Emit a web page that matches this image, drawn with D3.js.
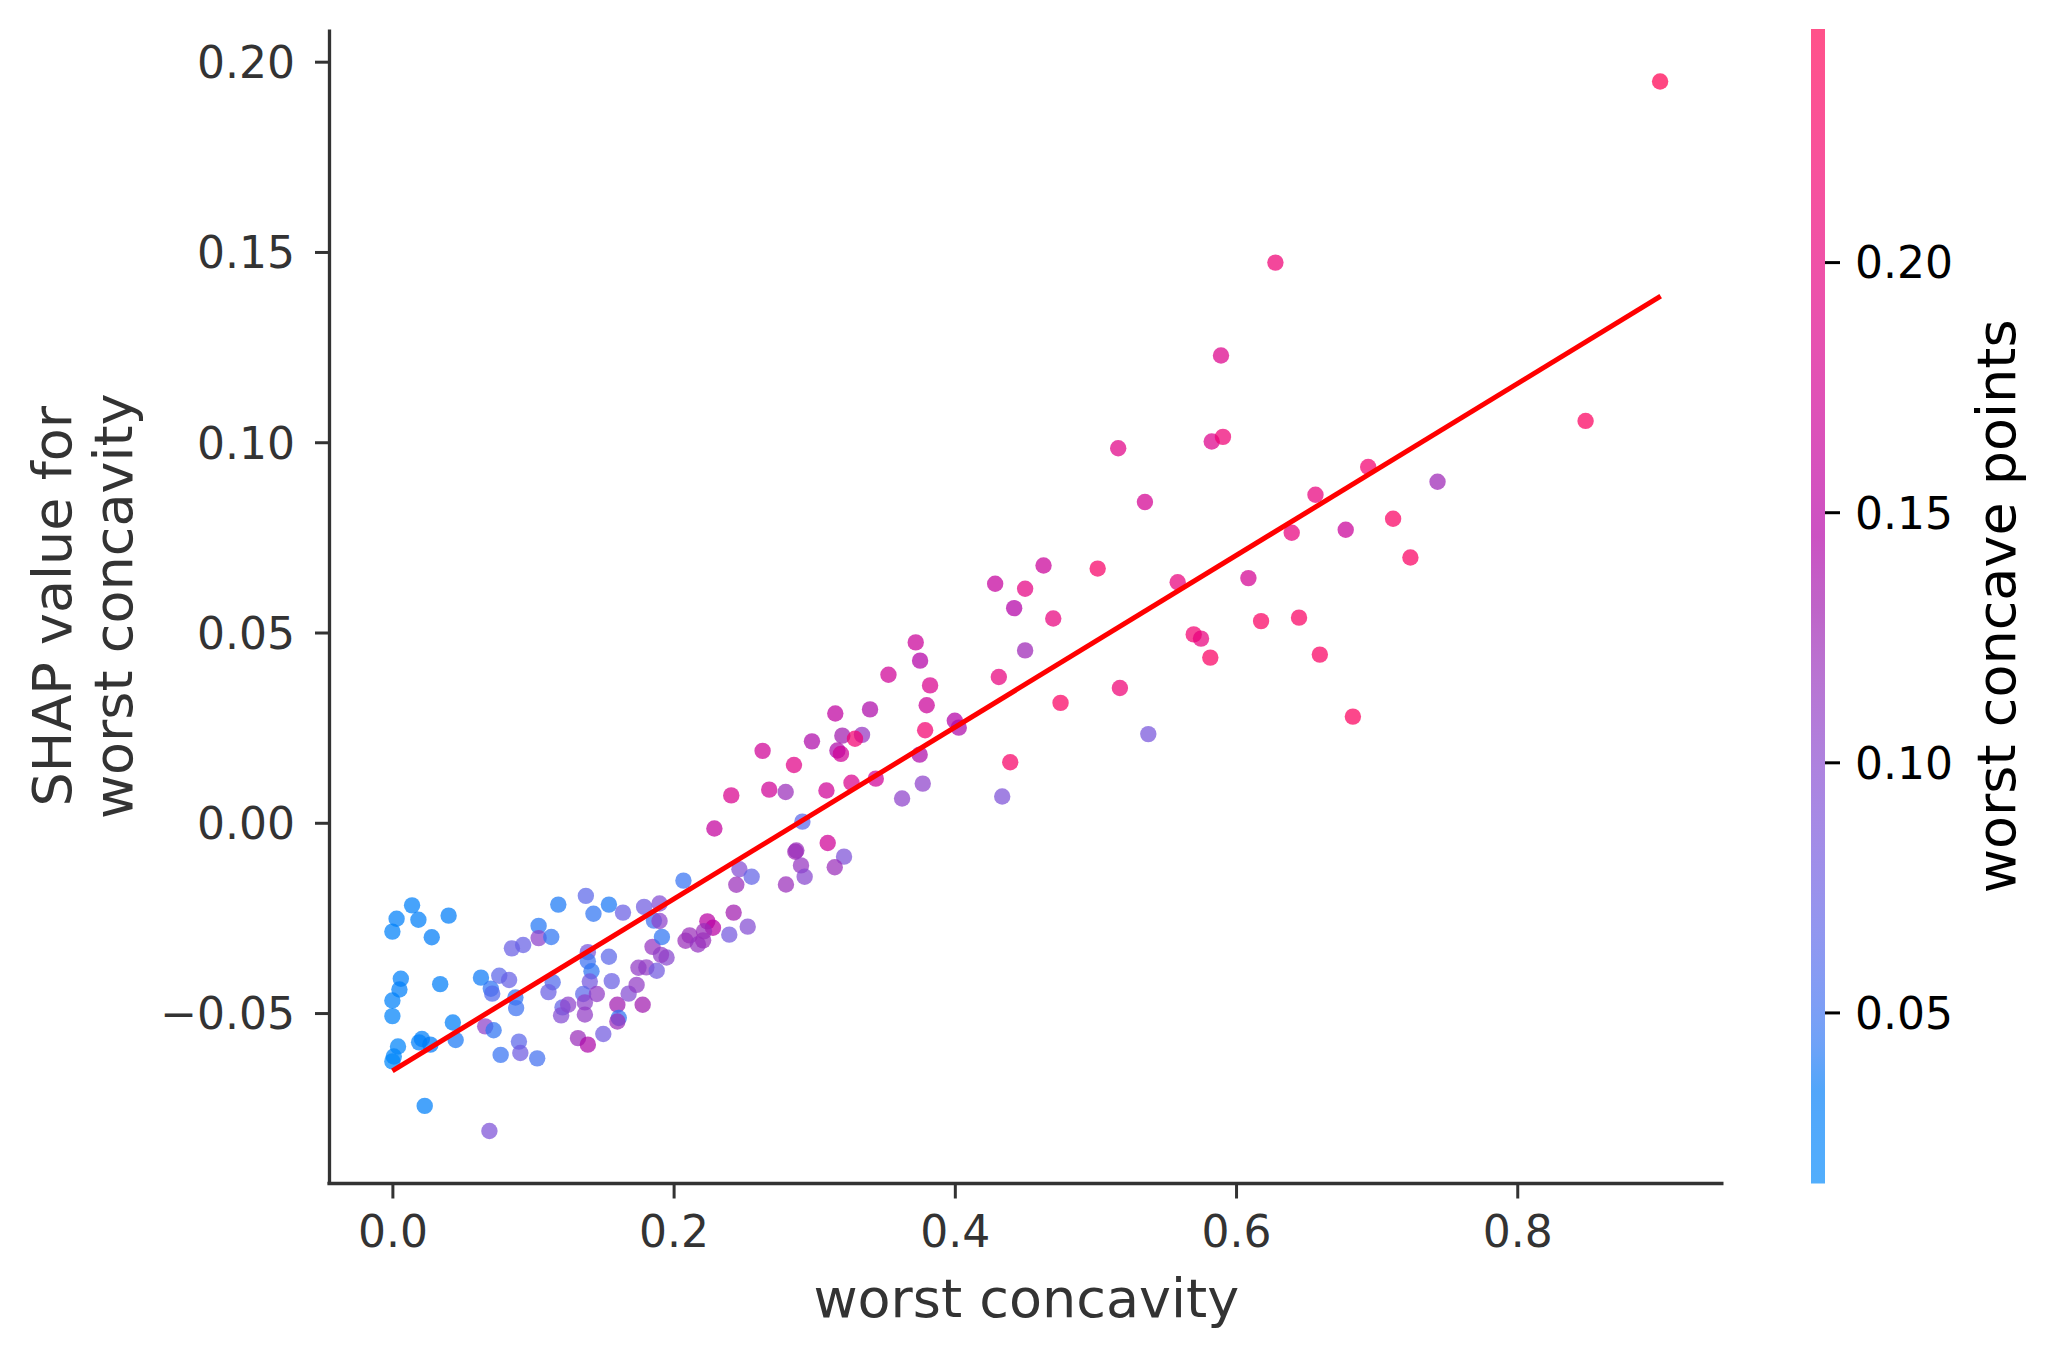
<!DOCTYPE html>
<html><head><meta charset="utf-8">
<script src="https://cdn.jsdelivr.net/npm/d3@7"></script>
<style>body{margin:0;background:#fff} svg text{font-family:"DejaVu Sans",sans-serif}</style>
</head><body><svg id="chart" width="2055" height="1357"></svg>
<script>
// ---- data ----
const worstConcavity = [
0.014,0.003,0.0185,0.000,0.028,0.040,0.006,0.005,0.000,0.000,0.034,0.004,0.001,0.000,0.021,0.019,0.027,0.023,0.043,0.045,
0.069,0.063,0.070,0.071,0.076,0.083,0.085,0.093,0.104,0.104,0.113,0.118,0.0875,0.088,0.066,0.072,0.077,0.090,0.091,0.103,
0.114,0.111,0.121,0.125,0.120,0.132,0.139,0.150,0.1376,0.143,0.154,0.164,0.139,0.139,0.1416,0.154,0.1404,0.1357,0.1454,0.1369,
0.1369,0.156,0.160,0.161,0.160,0.168,0.1737,0.178,0.175,0.1806,0.188,0.185,0.195,0.191,0.1917,0.186,0.190,0.179,0.190,0.207,
0.2085,0.2114,0.2173,0.221,0.224,0.228,0.2216,0.2427,0.2396,0.2527,0.2468,0.2446,0.2555,
0.315,0.3397,0.380,0.2984,0.320,0.334,0.329,0.3165,0.319,0.2633,0.2856,0.3789,0.3772,0.3625,0.375,0.3438,0.3265,0.3087,0.2797,0.268,
0.241,0.229,0.2916,0.3096,0.2866,0.2873,0.3212,0.2906,0.3146,0.2932,0.2799,
0.3722,0.3753,0.3528,0.3824,
0.5162,0.5827,0.5907,0.5352,0.6940,0.6565,0.7433,0.6396,0.678,0.7117,0.724,0.4287,0.450,0.4631,0.4422,0.470,0.5016,0.5585,0.6088,0.6178,
0.6448,0.450,0.4313,0.4752,0.5174,0.5699,0.5751,0.5817,0.6596,0.6831,0.5376,0.4000,0.4028,0.4394,0.4337,
0.9016,0.628,0.5893,0.8486
];
const shapValues = [
-0.0217,-0.0252,-0.0255,-0.0286,-0.0301,-0.0244,-0.0410,-0.0438,-0.0467,-0.0508,-0.0424,-0.0588,-0.0614,-0.0627,-0.0568,-0.0577,-0.0583,-0.0744,-0.0525,-0.0571,
-0.0810,-0.0407,-0.0436,-0.0449,-0.0402,-0.0413,-0.0330,-0.0321,-0.0271,-0.0303,-0.0300,-0.0215,-0.0459,-0.0487,-0.0535,-0.0545,-0.0610,-0.0575,-0.0605,-0.0619,
-0.0419,-0.0445,-0.0485,-0.0478,-0.0506,-0.0566,-0.0583,-0.0555,-0.0192,-0.0239,-0.0215,-0.0236,-0.0340,-0.0364,-0.0390,-0.0352,-0.0417,-0.0450,-0.0450,-0.0472,
-0.0504,-0.0416,-0.0478,-0.0513,-0.0522,-0.0449,-0.0426,-0.0478,-0.0381,-0.0380,-0.0389,-0.0326,-0.0354,-0.0347,-0.0300,-0.0257,-0.0258,-0.0221,-0.0212,-0.0152,
-0.0310,-0.0296,-0.0320,-0.0309,-0.0259,-0.0276,-0.0285,-0.0236,-0.0294,-0.0273,-0.0122,-0.0163,-0.0142,
0.0287,0.0298,0.0309,0.0214,0.0229,0.0231,0.0221,0.0190,0.0181,0.0189,0.0152,0.0243,0.0103,0.0064,0.0179,0.0116,0.0105,0.0085,0.0081,0.0087,
0.0072,-0.0015,0.0003,-0.0053,-0.0076,-0.0073,-0.0089,-0.0112,-0.0117,-0.0142,-0.0162,
0.0474,0.0426,0.0389,0.0361,
0.0984,0.1002,0.1014,0.0843,0.0935,0.0862,0.0896,0.0762,0.0770,0.0799,0.0697,0.0628,0.0615,0.0676,0.0564,0.0537,0.0668,0.0632,0.0643,0.0530,
0.0539,0.0453,0.0383,0.0315,0.0354,0.0495,0.0484,0.0434,0.0442,0.0279,0.0233,0.0268,0.0250,0.0159,0.0069,
0.1948,0.1472,0.1228,0.1056
];
const worstConcavePoints = [
0.030,0.028,0.032,0.027,0.035,0.033,0.030,0.029,0.026,0.025,0.031,0.022,0.020,0.0158,0.030,0.028,0.036,0.030,0.032,0.040,
0.090,0.038,0.045,0.060,0.065,0.072,0.075,0.072,0.042,0.105,0.045,0.040,0.045,0.050,0.105,0.045,0.048,0.065,0.078,0.052,
0.060,0.075,0.070,0.105,0.095,0.120,0.140,0.080,0.065,0.045,0.040,0.075,0.085,0.050,0.045,0.065,0.082,0.065,0.110,0.105,
0.110,0.075,0.130,0.045,0.120,0.095,0.110,0.130,0.110,0.110,0.080,0.115,0.100,0.110,0.045,0.050,0.105,0.078,0.095,0.048,
0.120,0.120,0.115,0.120,0.150,0.150,0.120,0.130,0.082,0.095,0.095,0.120,0.070,
0.155,0.140,0.165,0.140,0.130,0.115,0.215,0.140,0.170,0.170,0.190,0.215,0.105,0.105,0.140,0.170,0.180,0.170,0.120,0.170,
0.180,0.160,0.065,0.170,0.125,0.120,0.090,0.115,0.120,0.100,0.120,
0.165,0.145,0.170,0.180,
0.190,0.185,0.210,0.175,0.215,0.200,0.125,0.200,0.165,0.230,0.230,0.160,0.195,0.165,0.145,0.200,0.225,0.200,0.175,0.230,
0.230,0.125,0.200,0.230,0.210,0.215,0.200,0.230,0.230,0.235,0.085,0.145,0.140,0.225,0.090,
0.2466,0.210,0.185,0.235
];
const trendX = [0.0, 0.902];
const trendY = [-0.0652, 0.1384];
const xTicks = [0.0, 0.2, 0.4, 0.6, 0.8];
const yTicks = [-0.05, 0.00, 0.05, 0.10, 0.15, 0.20];
const cbTicks = [0.05, 0.10, 0.15, 0.20];
const colorRange = [0.0158, 0.2466];
const xLabel = "worst concavity";
const yLabelLines = ["SHAP value for", "worst concavity"];
const cbLabel = "worst concave points";

// ---- layout ----
const svg = d3.select("#chart");
const P = {left: 329, right: 1723.5, top: 29, bottom: 1183.5};
const axisColor = "#333333";

const xe = d3.extent(worstConcavity), ye = d3.extent(shapValues);
const xp = (xe[1]-xe[0])*0.05, yp = (ye[1]-ye[0])*0.05;
const x = d3.scaleLinear().domain([xe[0]-xp, xe[1]+xp]).range([P.left, P.right]);
const y = d3.scaleLinear().domain([ye[0]-yp, ye[1]+yp]).range([P.bottom, P.top]);

// shap red_blue colormap (LCh interpolation)
function redBlue(t) {
  t = Math.max(0, Math.min(1, t));
  const l = t < 0.5 ? 54 - 28*t : 40 + 28*(t-0.5);
  const c = 70 + 20*t;
  const h = 266.93 + (380.32 - 266.93)*t;
  return d3.hcl(h % 360, c, l).formatHex();
}
const cNorm = d3.scaleLinear().domain(colorRange).range([0,1]).clamp(true);
const color = v => redBlue(cNorm(v));

// points
const pts = worstConcavity.map((v,i)=>({x:v, y:shapValues[i], c:worstConcavePoints[i]}));
svg.append("g").selectAll("circle").data(pts).join("circle")
  .attr("cx", d=>x(d.x)).attr("cy", d=>y(d.y)).attr("r", 8.2)
  .attr("fill", d=>color(d.c)).attr("fill-opacity", 0.72);

// trend line
svg.append("path")
  .attr("d", d3.line()(trendX.map((v,i)=>[x(v), y(trendY[i])])))
  .attr("stroke", "#ff0000").attr("stroke-width", 5).attr("fill","none");

// axes
const fx = d3.format(".1f"), fy = d3.format(".2f");
const gx = svg.append("g").attr("transform", `translate(0,${P.bottom})`)
  .call(d3.axisBottom(x).tickValues(xTicks).tickFormat(fx).tickSize(15).tickSizeOuter(0).tickPadding(17));
const gy = svg.append("g").attr("transform", `translate(${P.left},0)`)
  .call(d3.axisLeft(y).tickValues(yTicks).tickFormat(fy).tickSize(14).tickSizeOuter(0).tickPadding(20));
[gx, gy].forEach(g => {
  g.attr("font-family", null).attr("font-size", null);
  g.select(".domain").attr("stroke", axisColor).attr("stroke-width", 3.3);
  g.selectAll(".tick line").attr("stroke", axisColor).attr("stroke-width", 3);
  g.selectAll(".tick text").attr("fill", axisColor).attr("font-size", 44);
});
gy.selectAll(".tick text").attr("dy", "0.36em");
gx.select(".domain").attr("d", `M${P.left-1.6},0H${P.right}`);

// axis labels
svg.append("text").attr("x", (P.left+P.right)/2).attr("y", 1317)
  .attr("text-anchor","middle").attr("font-size",54).attr("fill",axisColor).text(xLabel);
const yl = [71, 132];
yLabelLines.forEach((t,i)=>{
  svg.append("text").attr("transform", `translate(${yl[i]},${(P.top+P.bottom)/2}) rotate(-90)`)
    .attr("text-anchor","middle").attr("font-size",54).attr("fill",axisColor).text(t);
});

// colorbar
const cb = d3.scaleLinear().domain(colorRange).range([P.bottom, P.top]);
const defs = svg.append("defs");
const grad = defs.append("linearGradient").attr("id","cbgrad")
  .attr("x1","0").attr("y1","1").attr("x2","0").attr("y2","0");
d3.range(0, 1.0001, 0.02).forEach(t=>{
  grad.append("stop").attr("offset", t).attr("stop-color", redBlue(t));
});
svg.append("rect").attr("x",1811).attr("y",P.top).attr("width",14).attr("height",P.bottom-P.top)
  .attr("fill","url(#cbgrad)").attr("fill-opacity",0.68);
const gc = svg.append("g").attr("transform","translate(1825,0)")
  .call(d3.axisRight(cb).tickValues(cbTicks).tickFormat(fy).tickSize(15).tickSizeOuter(0).tickPadding(15));
gc.attr("font-family", null).attr("font-size", null);
gc.select(".domain").remove();
gc.selectAll(".tick line").attr("stroke","#000").attr("stroke-width",3);
gc.selectAll(".tick text").attr("fill","#000").attr("font-size",44).attr("dy","0.36em");
svg.append("text").attr("transform", `translate(2015,${(P.top+P.bottom)/2}) rotate(-90)`)
  .attr("text-anchor","middle").attr("font-size",54).attr("fill","#000").text(cbLabel);
</script></body></html>
